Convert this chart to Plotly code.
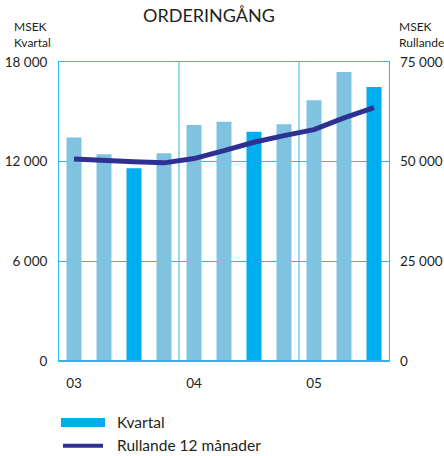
import plotly.graph_objects as go

# ---- data ----
years = ["03", "03", "03", "03", "04", "04", "04", "04", "05", "05", "05"]
quarters = [1, 2, 3, 4, 1, 2, 3, 4, 1, 2, 3]
kvartal = [13450, 12450, 11600, 12500, 14200, 14400, 13800, 14250, 15700, 17400, 16500]
rullande = [50700, 50200, 49950, 49700, 50780, 52780, 54860, 56540, 58040, 60970, 63550]
left_ticks = [0, 6000, 12000, 18000]
right_ticks = [0, 25000, 50000, 75000]

LIGHT = "#80C3E1"
DARK = "#00AEEF"
NAVY = "#2E3192"
GRID = "#2FB4EC"
TXT = "#231F20"
FONT = "Lato"

W, H = 444, 456
L, R, T, B = 59, 389, 62, 361.5

def px_x(p):
    return (p - L) / (R - L)

def px_y(p):
    return (B - p) / (B - T)

xs = list(range(len(kvartal)))
bar_colors = [DARK if q == 3 else LIGHT for q in quarters]

fig = go.Figure()
fig.add_trace(go.Bar(x=xs, y=kvartal, marker=dict(color=bar_colors, line_width=0),
                     width=0.5, name="Kvartal", yaxis="y", showlegend=False))
fig.add_trace(go.Scatter(x=xs, y=rullande, mode="lines", name="Rullande 12 månader",
                         line=dict(color=NAVY, width=5), yaxis="y2", showlegend=False))

# year tick positions / separators from data
tick_pos = [i for i in xs if quarters[i] == 1]
tick_text = [years[i] for i in tick_pos]
seps = [i - 0.5 for i in tick_pos[1:]]

shapes = []
for s in seps:
    shapes.append(dict(type="line", xref="x", yref="paper", x0=s, x1=s, y0=0, y1=1,
                       line=dict(color=GRID, width=1), layer="below"))

# legend (custom)
shapes.append(dict(type="rect", xref="paper", yref="paper",
                   x0=px_x(61), x1=px_x(105), y0=px_y(427.5), y1=px_y(418.5),
                   fillcolor=DARK, line_width=0))
shapes.append(dict(type="line", xref="paper", yref="paper",
                   x0=px_x(63), x1=px_x(103), y0=px_y(446.5), y1=px_y(446.5),
                   line=dict(color=NAVY, width=4)))
shapes.append(dict(type="line", xref="paper", yref="y", x0=0, x1=1, y0=0, y1=0,
                   line=dict(color=GRID, width=2)))

annotations = [
    dict(text="ORDERINGÅNG", xref="paper", yref="paper", x=px_x(209), y=px_y(15),
         showarrow=False, font=dict(size=18, color=TXT, family=FONT), xanchor="center", yanchor="middle"),
    dict(text="MSEK<br>Kvartal", xref="paper", yref="paper", x=px_x(12), y=px_y(34),
         showarrow=False, font=dict(size=12, color=TXT, family=FONT), xanchor="left", yanchor="middle", align="left"),
    dict(text="MSEK<br>Rullande", xref="paper", yref="paper", x=px_x(397), y=px_y(34),
         showarrow=False, font=dict(size=12, color=TXT, family=FONT), xanchor="left", yanchor="middle", align="left"),
    dict(text="Kvartal", xref="paper", yref="paper", x=px_x(115), y=px_y(422.5),
         showarrow=False, font=dict(size=15.5, color=TXT, family=FONT), xanchor="left", yanchor="middle"),
    dict(text="Rullande 12 månader", xref="paper", yref="paper", x=px_x(115), y=px_y(446),
         showarrow=False, font=dict(size=15.5, color=TXT, family=FONT), xanchor="left", yanchor="middle"),
]

fig.update_layout(
    template="none",
    width=W, height=H,
    margin=dict(l=L, r=W - R, t=T, b=H - B, pad=0),
    paper_bgcolor="white", plot_bgcolor="white",
    separators=". ",
    font=dict(family=FONT, size=13, color=TXT),
    showlegend=False,
    xaxis=dict(range=[-0.5, len(xs) - 0.5], tickvals=tick_pos, ticktext=tick_text, automargin=False,
               showgrid=False, zeroline=False, showline=True, linecolor=GRID, linewidth=1,
               mirror=True, ticks="", ticklabelstandoff=10, tickfont=dict(size=13.5)),
    yaxis=dict(range=[0, 18000], tickvals=left_ticks, tickformat=",d", automargin=False,
               showgrid=True, gridcolor=GRID, gridwidth=1, zeroline=False,
               showline=True, linecolor=GRID, linewidth=1, mirror=True,
               ticks="", ticklabelstandoff=8, tickfont=dict(size=13.5)),
    yaxis2=dict(range=[0, 75000], tickvals=right_ticks, tickformat=",d", automargin=False,
                overlaying="y", side="right", showgrid=False, zeroline=False,
                showline=False, ticks="", ticklabelstandoff=10, tickfont=dict(size=13.5)),
    shapes=shapes,
    annotations=annotations,
)

fig.write_html("out.html", config={"displayModeBar": False},
               post_script="document.body.style.margin='0';document.body.style.overflow='hidden';")
